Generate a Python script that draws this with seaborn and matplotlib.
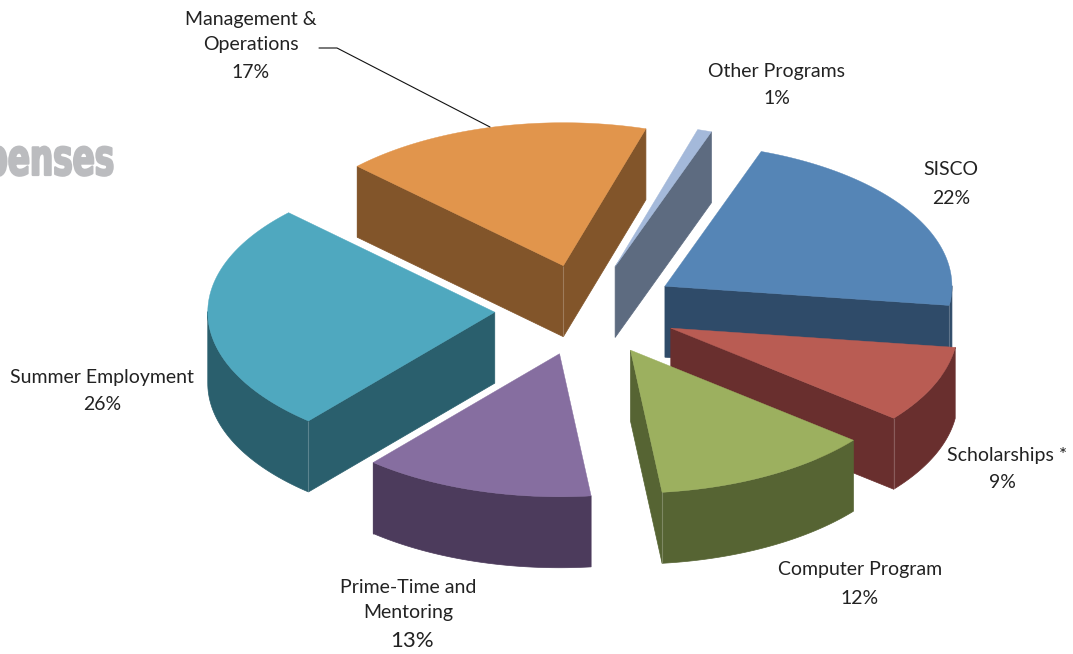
import numpy as np
import pandas as pd
import seaborn as sns
import matplotlib
matplotlib.use("Agg")
import matplotlib.pyplot as plt
from matplotlib.patches import Polygon
from matplotlib.patheffects import AbstractPathEffect
from matplotlib.transforms import Affine2D

# ---- data ----
categories = ["SISCO", "Scholarships *", "Computer Program", "Prime-Time and\nMentoring",
              "Summer Employment", "Management &\nOperations", "Other Programs"]
shares = [21.7, 8.7, 12.4, 13.0, 26.0, 17.4, 0.8]
top_colors = ["#5585B6", "#B95C53", "#9CB05F", "#866EA0", "#4FA8BF", "#E1954C", "#A4B9DA"]
side_colors = ["#2F4B69", "#692F2E", "#566433", "#4C3B5C", "#2A5F6D", "#82552A", "#5D6B80"]

# ---- layout, in pixels of the reference ----
W, H = 1073, 654
CX, CY, RX, RY = 586.5, 310, 287, 143
DEPTH = 71 / RY
EXPLODE = 0.32
START_DEG = 19.6
name_px = [(951, 170), (1007, 456), (860, 570), (408, 600), (102, 377), (251, 32), (777, 72)]
pct_px = [(951, 198), (1002, 482), (860, 598), (412, 641), (102, 404), (251, 72), (777, 99)]
pct_size = [14, 14, 14, 16, 14, 14, 14]
leader_px = [(319, 48), (337, 48), (490, 127)]

sns.set_theme(style="white", rc={"axes.facecolor": "white", "figure.facecolor": "white"})
plt.rcParams["font.family"] = ["Lato", "DejaVu Sans"]

df = pd.DataFrame({"category": categories, "share": shares,
                   "top": top_colors, "side": side_colors})
df["end"] = START_DEG + 360 * df["share"].cumsum() / df["share"].sum()
df["start"] = df["end"] - 360 * df["share"] / df["share"].sum()
df["mid"] = np.radians((df["start"] + df["end"]) / 2)
df["ox"] = EXPLODE * np.sin(df["mid"])
df["oy"] = EXPLODE * np.cos(df["mid"])

fig = plt.figure(figsize=(W / 100, H / 100), dpi=100)
ax = fig.add_axes([0, 0, 1, 1])
ax.set_xlim((0 - CX) / RX, (W - CX) / RX)
ax.set_ylim((CY - H) / RY, CY / RY)
ax.axis("off")
sns.despine(ax=ax, left=True, bottom=True)


def to_fig(px, py):
    return px / W, 1 - py / H


def add_side(points, color):
    pts = np.asarray(points)
    poly = np.r_[pts, pts[::-1] - [0, DEPTH]]
    ax.add_patch(Polygon(poly, closed=True, facecolor=color, edgecolor=color, lw=0.5, zorder=2))


for _, row in df.sort_values("oy", ascending=False).iterrows():
    t = np.radians(np.linspace(row["start"], row["end"], 80))
    xs = np.r_[0, np.sin(t)] + row["ox"]
    ys = np.r_[0, np.cos(t)] + row["oy"]
    closed = np.c_[np.r_[xs, xs[0]], np.r_[ys, ys[0]]]
    n = len(closed) - 1
    front = [closed[i + 1, 0] < closed[i, 0] for i in range(n)]
    run = []
    for i in range(n):
        if front[i]:
            if not run:
                run = [closed[i]]
            run.append(closed[i + 1])
        if run and (not front[i] or i in (0, n - 2, n - 1)):
            add_side(run, row["side"])
            run = [closed[i + 1]] if front[i] else []
    ax.add_patch(Polygon(closed[:-1], closed=True, facecolor=row["top"],
                         edgecolor=row["top"], lw=0.3, zorder=2))
    for i in [0, 1, n - 1]:
        if front[i] and front[(i - 1) % n]:
            p = closed[i]
            ax.plot([p[0], p[0]], [p[1], p[1] - DEPTH], color="#FFFFFF", alpha=0.22, lw=0.8,
                    solid_capstyle="butt", zorder=2)

lx = [(p[0] - CX) / RX for p in leader_px]
ly = [(CY - p[1]) / RY for p in leader_px]
ax.plot(lx, ly, color="#111111", lw=0.8, zorder=3)

for cat, share, np_, pp, ps in zip(categories, shares, name_px, pct_px, pct_size):
    fx, fy = to_fig(*np_)
    fig.text(fx, fy, cat, ha="center", va="center", ma="center", fontsize=14,
             color="#222222", linespacing=1.6)
    fx, fy = to_fig(*pp)
    fig.text(fx, fy, f"{share:.0f}%", ha="center", va="center", fontsize=ps, color="#222222")


class StretchY(AbstractPathEffect):
    """Stretch glyphs vertically about the baseline and thicken them (display type)."""

    def __init__(self, sy, stroke):
        super().__init__()
        self.sy = sy
        self.stroke = stroke

    def draw_path(self, renderer, gc, tpath, affine, rgbFace):
        gc0 = renderer.new_gc()
        gc0.copy_properties(gc)
        gc0.set_linewidth(self.stroke)
        gc0.set_foreground(rgbFace)
        renderer.draw_path(gc0, tpath, Affine2D().scale(1, self.sy) + affine, rgbFace)
        gc0.restore()


fx, fy = to_fig(114, 175)
title = fig.text(fx, fy, "Expenses", ha="right", va="baseline", fontsize=23.5,
                 family="Liberation Sans Narrow", fontweight="bold", color="#BBBCBF")
title.set_path_effects([StretchY(1.55, 1.6)])

fig.savefig("out.png", dpi=100)
